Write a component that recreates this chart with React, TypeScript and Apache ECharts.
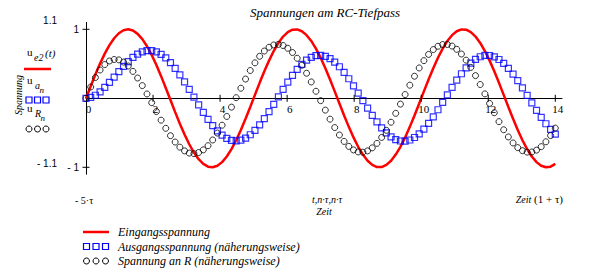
import { useEffect, useRef } from "react";
import * as echarts from "echarts";

// ---- data ----
const chartTitle = "Spannungen am RC-Tiefpass";
const timeStep = 0.14; // n·τ spacing of the sampled points
const eingang = [
  0.0, 0.175, 0.345, 0.504, 0.647, 0.771, 0.87, 0.943, 0.987, 1.0,
  0.982, 0.934, 0.858, 0.754, 0.628, 0.482, 0.321, 0.15, -0.025, -0.2,
  -0.368, -0.525, -0.666, -0.786, -0.882, -0.951, -0.991, -0.999, -0.977, -0.925,
  -0.844, -0.737, -0.608, -0.46, -0.297, -0.125, 0.05, 0.224, 0.391, 0.546,
  0.685, 0.802, 0.894, 0.959, 0.994, 0.998, 0.972, 0.915, 0.831, 0.72,
  0.588, 0.437, 0.273, 0.1, -0.075, -0.249, -0.414, -0.567, -0.703, -0.816,
  -0.905, -0.965, -0.996, -0.996, -0.965, -0.905, -0.816, -0.703, -0.567, -0.414,
  -0.249, -0.075, 0.1, 0.273, 0.437, 0.588, 0.72, 0.831, 0.915, 0.972,
  0.998, 0.994, 0.959, 0.894, 0.802, 0.685, 0.546, 0.391, 0.224, 0.05,
  -0.125, -0.297, -0.46, -0.608, -0.737, -0.844, -0.925, -0.977, -0.999, -0.991,
  -0.951,
];
const ausgang = [
  0.0, 0.012, 0.044, 0.094, 0.158, 0.23, 0.308, 0.386, 0.462, 0.532,
  0.592, 0.64, 0.674, 0.691, 0.691, 0.674, 0.638, 0.585, 0.517, 0.434,
  0.34, 0.237, 0.128, 0.016, -0.096, -0.204, -0.304, -0.395, -0.473, -0.535,
  -0.581, -0.609, -0.617, -0.606, -0.576, -0.528, -0.464, -0.385, -0.294, -0.194,
  -0.088, 0.021, 0.129, 0.234, 0.331, 0.418, 0.493, 0.552, 0.594, 0.618,
  0.622, 0.608, 0.575, 0.524, 0.457, 0.376, 0.283, 0.181, 0.074, -0.035,
  -0.143, -0.247, -0.343, -0.429, -0.501, -0.558, -0.598, -0.619, -0.621, -0.604,
  -0.568, -0.515, -0.446, -0.363, -0.269, -0.166, -0.059, 0.051, 0.159, 0.262,
  0.356, 0.44, 0.511, 0.565, 0.602, 0.621, 0.62, 0.6, 0.562, 0.506,
  0.435, 0.35, 0.255, 0.151, 0.043, -0.066, -0.174, -0.276, -0.369, -0.451,
  -0.519,
];
const spannungR = [
  0.0, 0.163, 0.301, 0.41, 0.489, 0.541, 0.562, 0.557, 0.525, 0.468,
  0.39, 0.294, 0.184, 0.063, -0.063, -0.192, -0.317, -0.435, -0.542, -0.634,
  -0.708, -0.762, -0.794, -0.802, -0.786, -0.747, -0.687, -0.604, -0.504, -0.39,
  -0.263, -0.128, 0.009, 0.146, 0.279, 0.403, 0.514, 0.609, 0.685, 0.74,
  0.773, 0.781, 0.765, 0.725, 0.663, 0.58, 0.479, 0.363, 0.237, 0.102,
  -0.034, -0.171, -0.302, -0.424, -0.532, -0.625, -0.697, -0.748, -0.777, -0.781,
  -0.762, -0.718, -0.653, -0.567, -0.464, -0.347, -0.218, -0.084, 0.054, 0.19,
  0.32, 0.44, 0.546, 0.636, 0.706, 0.754, 0.779, 0.78, 0.757, 0.71,
  0.642, 0.553, 0.448, 0.329, 0.2, 0.064, -0.074, -0.209, -0.338, -0.456,
  -0.56, -0.647, -0.715, -0.759, -0.78, -0.778, -0.751, -0.701, -0.63, -0.54,
  -0.432,
];
const xLabelValues = [0, 2, 4, 6, 8, 10, 12, 14];
const xTickValues = [2, 4, 6, 8, 10, 12, 14];
const yTickValues = [-1, 1];
const yLimitLabels = ["1.1", "- 1.1"];
const xLimitLeft = "- 5·τ";
const xAxisExpr = "t,n·τ,n·τ";
const xAxisName = "Zeit";
const yAxisName = "Spannung";
const legendNames = [
  "Eingangsspannung",
  "Ausgangsspannung (näherungsweise)",
  "Spannung an R (näherungsweise)",
];

const SERIF = '"Liberation Serif", "Times New Roman", serif';
const SANS = '"Liberation Sans", Arial, sans-serif';
const RED = "#ff0000";
const BLUE = "#0000ff";

function txt(text: string, x: number, y: number, font: string, align = "left", extra: any = {}) {
  return {
    type: "text",
    x,
    y,
    silent: true,
    ...extra,
    style: {
      text,
      font,
      fill: "#000",
      align,
      textAlign: align,
      verticalAlign: "middle",
      textVerticalAlign: "middle",
    },
  };
}

export default function App() {
  const ref = useRef<HTMLDivElement>(null);
  useEffect(() => {
    const chart = echarts.init(ref.current!, undefined, { renderer: "svg" });
    const pts = (vals: number[]) => vals.map((v, i) => [Math.round(i * timeStep * 100) / 100, v]);

    const tickRender = (horizontal: boolean) => (_p: any, api: any) => {
      const c = api.coord([api.value(0), api.value(1)]);
      const h = 3.5;
      return {
        type: "line",
        shape: horizontal
          ? { x1: c[0] - h, y1: c[1], x2: c[0] + h, y2: c[1] }
          : { x1: c[0], y1: c[1] - h, x2: c[0], y2: c[1] + h },
        style: { stroke: "#000", lineWidth: 1 },
      };
    };

    const xLabelRender = (_p: any, api: any) => {
      const v = api.value(0);
      const c = api.coord([v, 0]);
      return {
        type: "text",
        x: c[0] + 2.5,
        y: c[1] + 11,
        style: {
          text: String(v),
          font: `11px ${SERIF}`,
          fill: "#000",
          align: "center",
          textAlign: "center",
          verticalAlign: "middle",
          textVerticalAlign: "middle",
        },
      };
    };

    const legendY = [232, 246.5, 261];
    const sq = (cx: number, cy: number) => ({
      type: "rect",
      silent: true,
      shape: { x: cx - 3, y: cy - 3, width: 6, height: 6 },
      style: { fill: "none", stroke: BLUE, lineWidth: 1.2 },
    });
    const ci = (cx: number, cy: number) => ({
      type: "circle",
      silent: true,
      shape: { cx, cy, r: 3 },
      style: { fill: "none", stroke: "#000", lineWidth: 1 },
    });

    const option: any = {
      animation: false,
      backgroundColor: "#ffffff",
      grid: { left: 86, right: 27, top: 22.4, bottom: 93.8, containLabel: false },
      xAxis: {
        type: "value",
        min: 0,
        max: 14.2,
        interval: 2,
        axisLine: { onZero: true, lineStyle: { color: "#000", width: 1 } },
        axisTick: { show: false },
        splitLine: { show: false },
        axisLabel: { show: false },
      },
      yAxis: {
        type: "value",
        min: -1.1,
        max: 1.1,
        axisLine: { onZero: true, lineStyle: { color: "#000", width: 1 } },
        axisTick: { show: false },
        splitLine: { show: false },
        axisLabel: {
          customValues: yTickValues,
          formatter: (v: number) => (v < 0 ? "- " + Math.abs(v) : String(v)),
          color: "#000",
          fontFamily: SANS,
          fontSize: 10,
          margin: 7,
        },
      },
      series: [
        {
          name: legendNames[0],
          type: "line",
          data: pts(eingang),
          showSymbol: false,
          lineStyle: { color: RED, width: 2.5 },
          z: 2,
        },
        {
          name: legendNames[1],
          type: "scatter",
          data: pts(ausgang),
          symbol: "rect",
          symbolSize: 6,
          itemStyle: { color: "rgba(0,0,0,0)", borderColor: BLUE, borderWidth: 1.2 },
          z: 3,
        },
        {
          name: legendNames[2],
          type: "scatter",
          data: pts(spannungR),
          symbol: "circle",
          symbolSize: 6,
          itemStyle: { color: "rgba(0,0,0,0)", borderColor: "#000", borderWidth: 1 },
          z: 4,
        },
        {
          type: "custom",
          silent: true,
          data: xTickValues.map((v) => [v, 0]),
          renderItem: tickRender(false),
          z: 5,
        },
        {
          type: "custom",
          silent: true,
          data: yTickValues.map((v) => [0, v]),
          renderItem: tickRender(true),
          z: 5,
        },
        {
          type: "custom",
          silent: true,
          data: xLabelValues.map((v) => [v, 0]),
          renderItem: xLabelRender,
          z: 5,
        },
      ],
      graphic: [
        txt(chartTitle, 325, 12, `italic 13px ${SERIF}`, "center"),
        txt(yLimitLabels[0], 57, 20, `10px ${SANS}`, "right"),
        txt(yLimitLabels[1], 57, 163, `10px ${SANS}`, "right"),
        txt(xLimitLeft, 75, 200, `10px ${SERIF}`, "left"),
        txt(xAxisExpr, 327, 199, `italic 10px ${SERIF}`, "center"),
        txt(xAxisName, 324, 211, `italic 10px ${SERIF}`, "center"),
        {
          type: "text",
          x: 563,
          y: 199,
          silent: true,
          style: {
            text: "{i|Zeit}{r| (1 + τ)}",
            align: "right",
            textAlign: "right",
            verticalAlign: "middle",
            textVerticalAlign: "middle",
            fill: "#000",
            rich: {
              i: { fontFamily: SERIF, fontStyle: "italic", fontSize: 10, fill: "#000" },
              r: { fontFamily: SERIF, fontSize: 11, fill: "#000" },
            },
          },
        },
        txt(yAxisName, 18.5, 95, `italic 10px ${SERIF}`, "center", { rotation: Math.PI / 2 }),
        // trace labels on the left
        txt("u", 27, 52, `11px ${SERIF}`),
        txt("e2", 34, 57, `italic 10px ${SERIF}`),
        txt("(t)", 45, 53, `italic 11px ${SERIF}`),
        {
          type: "line",
          silent: true,
          shape: { x1: 24, y1: 69, x2: 51, y2: 69 },
          style: { stroke: RED, lineWidth: 2.5 },
        },
        txt("u", 27, 80, `11px ${SERIF}`),
        txt("a", 35, 85, `italic 10px ${SERIF}`),
        txt("n", 39.5, 90, `italic 9px ${SERIF}`),
        sq(29, 100),
        sq(37.5, 100),
        sq(46, 100),
        txt("u", 27, 108, `11px ${SERIF}`),
        txt("R", 35, 113, `italic 10px ${SERIF}`),
        txt("n", 40.5, 118, `italic 9px ${SERIF}`),
        ci(29, 129),
        ci(37.5, 129),
        ci(46, 129),
        // legend at the bottom
        {
          type: "line",
          silent: true,
          shape: { x1: 83, y1: legendY[0], x2: 109, y2: legendY[0] },
          style: { stroke: RED, lineWidth: 2.5 },
        },
        sq(86.5, legendY[1]),
        sq(96, legendY[1]),
        sq(105.5, legendY[1]),
        ci(86.5, legendY[2]),
        ci(96, legendY[2]),
        ci(105.5, legendY[2]),
        txt(legendNames[0], 118, legendY[0], `italic 12px ${SERIF}`),
        txt(legendNames[1], 118, legendY[1], `italic 12px ${SERIF}`),
        txt(legendNames[2], 118, legendY[2], `italic 12px ${SERIF}`),
      ],
    };
    chart.setOption(option);
    return () => chart.dispose();
  }, []);
  return (
    <div
      ref={ref}
      style={{ position: "fixed", left: 0, top: 0, width: 589, height: 268, background: "#fff" }}
    />
  );
}
